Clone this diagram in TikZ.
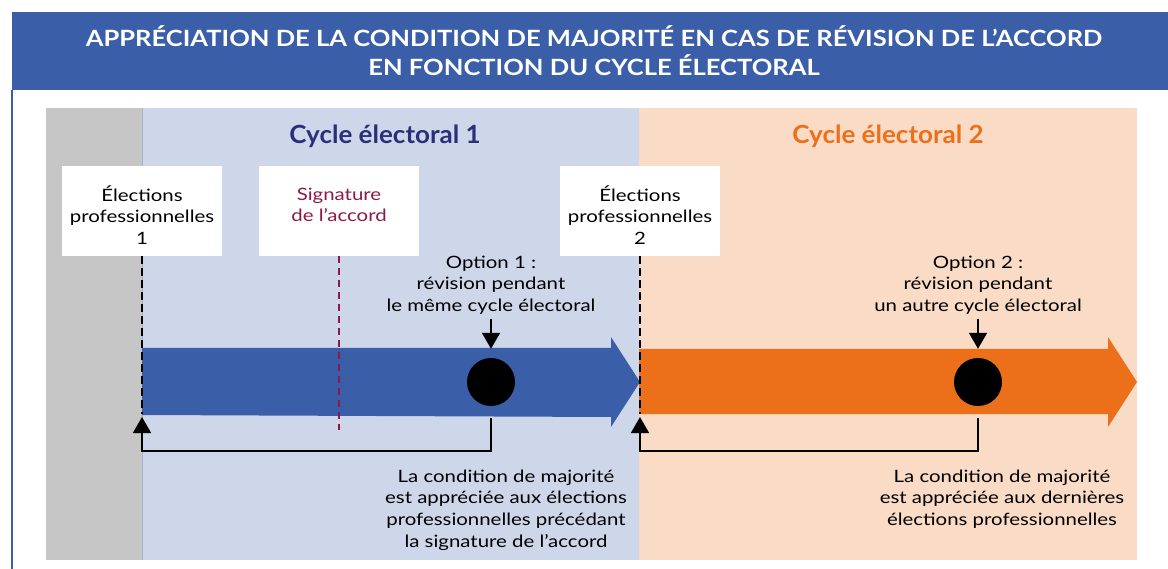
\documentclass[tikz,border=0pt]{standalone}
\usepackage{fontspec}
\setmainfont{Lato}
\newfontfamily\bodyfont{Lato}[FakeStretch=1.2]
\newfontfamily\ttlfont{Lato}[FakeStretch=1.14]
\newfontfamily\cycfont{Lato}[FakeStretch=1.04]
\usetikzlibrary{arrows.meta}
\definecolor{tblue}{RGB}{58,94,168}
\definecolor{pgray}{RGB}{198,198,198}
\definecolor{lblue}{RGB}{206,215,233}
\definecolor{peach}{RGB}{249,219,198}
\definecolor{aorange}{RGB}{236,112,26}
\definecolor{navy}{RGB}{43,47,122}
\definecolor{maroon}{RGB}{139,26,74}
\definecolor{sepline}{RGB}{165,178,205}
\begin{document}
\begin{tikzpicture}[x=1pt,y=-1pt,
  txt/.style={font=\bodyfont\fontsize{17}{21.7}\selectfont, align=center, inner sep=0pt, text=black},
  wbox/.style={fill=white, minimum width=160pt, minimum height=90pt, inner sep=0pt},
  dot/.style={circle, fill=black, minimum size=48pt, inner sep=0pt},
  conn/.style={line width=1.6pt, -{Triangle[length=16pt,width=18pt]}},
  blackdash/.style={line width=2.7pt, dash pattern=on 8pt off 4pt},
  sigdash/.style={maroon, line width=2pt, dash pattern=on 7pt off 5pt},
  cyc/.style={font=\cycfont\fontsize{25}{29}\selectfont\bfseries, inner sep=0pt},
  ttl/.style={font=\ttlfont\fontsize{22.4}{29}\selectfont\bfseries, align=center, text=white, inner sep=0pt}]
\useasboundingbox (0,0) rectangle (1168,569);
\fill[white] (0,0) rectangle (1168,569);
% title bar and frame
\fill[tblue] (12,12) rectangle (1168,90);
\draw[tblue, line width=1.2pt] (12,90) -- (12,569);
\node[ttl] (title) at (594,51) {APPRÉCIATION DE LA CONDITION DE MAJORITÉ EN CAS DE RÉVISION DE L’ACCORD\\EN FONCTION DU CYCLE ÉLECTORAL};
% panels
\fill[pgray] (46,108) rectangle (142,560);
\fill[lblue] (142,108) rectangle (639,560);
\fill[peach] (639,108) rectangle (1137,560);
\draw[sepline, line width=0.8pt] (142,108) -- (142,560);
\node[cyc, text=navy] (cyc1) at (385,136) {Cycle électoral 1};
\node[cyc, text=aorange] (cyc2) at (888,136) {Cycle électoral 2};
% big arrows
\fill[tblue] (142,348) -- (611,348) -- (611,337) -- (640,382) -- (611,427) -- (611,417) -- (142,415) -- cycle;
\fill[aorange] (639,349) -- (1108,349) -- (1108,337) -- (1137,382) -- (1108,427) -- (1108,414) -- (639,414) -- cycle;
% boxes
\node[wbox] (e1) at (142,211) {};
\node[wbox] (sig) at (339,211) {};
\node[wbox] (e2) at (640,211) {};
\node[txt] (e1t) at (142,215) {Élections\\professionnelles\\1};
\node[txt, text=maroon] (sigt) at (339,205) {Signature\\de l’accord};
\node[txt] (e2t) at (640,215) {Élections\\professionnelles\\2};
\coordinate (a1) at (142,417);
\coordinate (a2) at (640,417);
% dashed lines
\draw[blackdash] (e1.south) -- (142,414);
\draw[blackdash] (e2.south) -- (640,414);
\draw[sigdash] (sig.south) -- (339,430);
% options
\node[txt] (o1) at (491,285) {Option 1 :\\révision pendant\\le même cycle électoral};
\node[txt] (o2) at (978,285) {Option 2 :\\révision pendant\\un autre cycle électoral};
\node[dot] (c1) at (491,382) {};
\node[dot] (c2) at (978,382) {};
\draw[conn, shorten <=4pt, shorten >=9pt] (o1.south) -- (c1.north);
\draw[conn, shorten <=4pt, shorten >=9pt] (o2.south) -- (c2.north);
\draw[conn, shorten <=12pt] (c1.south) -- ++(0,45) -| (a1);
\draw[conn, shorten <=12pt] (c2.south) -- ++(0,45) -| (a2);
% bottom texts
\node[txt] (t1) at (506,510) {La condition de majorité\\est appréciée aux élections\\professionnelles précédant\\la signature de l’accord};
\node[txt] (t2) at (1002,499) {La condition de majorité\\est appréciée aux dernières\\élections professionnelles};
\end{tikzpicture}
\end{document}
